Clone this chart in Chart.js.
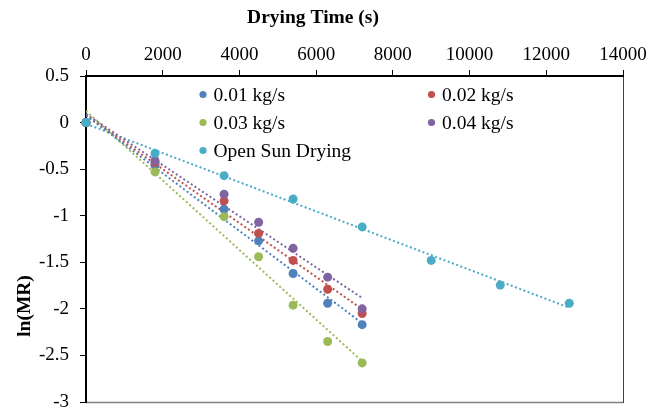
<!DOCTYPE html>
<html>
<head>
<meta charset="utf-8">
<script src="https://cdn.jsdelivr.net/npm/chart.js@4/dist/chart.umd.min.js"></script>
<style>
html,body{margin:0;padding:0;background:#fff;}
#wrap{width:661px;height:412px;position:relative;}
</style>
</head>
<body>
<div id="wrap"><canvas id="c" width="661" height="412"></canvas></div>
<script>
// ---- data ----
const xAir = [0, 1800, 3600, 4500, 5400, 6300, 7200];
const xSun = [0, 1800, 3600, 5400, 7200, 9000, 10800, 12600];
const flow001 = [0, -0.46, -0.93, -1.27, -1.62, -1.94, -2.17];
const flow002 = [0, -0.43, -0.84, -1.19, -1.48, -1.79, -2.05];
const flow003 = [0, -0.53, -1.01, -1.44, -1.96, -2.35, -2.58];
const flow004 = [0, -0.41, -0.77, -1.07, -1.35, -1.66, -2.00];
const openSun = [0, -0.33, -0.57, -0.82, -1.12, -1.48, -1.745, -1.94];
const seriesLabels = ['0.01 kg/s', '0.02 kg/s', '0.03 kg/s', '0.04 kg/s', 'Open Sun Drying'];
const colors = ['#4F81BD', '#C0504D', '#9BBB59', '#8064A2', '#4BACC6'];
const xTitle = 'Drying Time (s)';
const yTitle = 'ln(MR)';

const seriesX = [xAir, xAir, xAir, xAir, xSun];
const seriesY = [flow001, flow002, flow003, flow004, openSun];

function pts(xs, ys) { return xs.map((x, i) => ({x: x, y: ys[i]})); }
function trend(xs, ys) {
  const n = xs.length;
  let sx = 0, sy = 0, sxx = 0, sxy = 0;
  for (let i = 0; i < n; i++) { sx += xs[i]; sy += ys[i]; sxx += xs[i]*xs[i]; sxy += xs[i]*ys[i]; }
  const b = (n*sxy - sx*sy) / (n*sxx - sx*sx);
  const a = (sy - b*sx) / n;
  const x0 = xs[0], x1 = xs[n-1];
  return [{x: x0, y: a + b*x0}, {x: x1, y: a + b*x1}];
}

const FONT = "'Liberation Serif', 'Times New Roman', serif";
const datasets = [];
for (let i = 0; i < 5; i++) {
  datasets.push({
    label: seriesLabels[i],
    data: pts(seriesX[i], seriesY[i]),
    showLine: false,
    pointRadius: 4.5,
    pointHoverRadius: 4.5,
    pointBackgroundColor: colors[i],
    pointBorderColor: colors[i],
    pointBorderWidth: 0,
    clip: false,
    order: 5 - i,
    isPoints: true
  });
}
for (let i = 0; i < 5; i++) {
  datasets.push({
    label: seriesLabels[i] + ' trend',
    data: trend(seriesX[i], seriesY[i]),
    showLine: true,
    pointRadius: 0,
    borderColor: colors[i],
    borderWidth: 2,
    borderDash: [2, 2.5],
    fill: false,
    order: 20 + i
  });
}

const customDraw = {
  id: 'customDraw',
  beforeDraw(chart) {
    const ctx = chart.ctx;
    ctx.save();
    ctx.fillStyle = '#fff';
    ctx.fillRect(0, 0, chart.width, chart.height);
    const a = chart.chartArea;
    ctx.strokeStyle = '#808080';
    ctx.lineWidth = 1.5;
    ctx.beginPath();
    ctx.moveTo(a.left, a.bottom + 0.5);
    ctx.lineTo(a.right, a.bottom + 0.5);
    ctx.stroke();
    ctx.strokeStyle = '#404040';
    ctx.lineWidth = 1;
    ctx.beginPath();
    ctx.moveTo(a.right + 0.5, a.top);
    ctx.lineTo(a.right + 0.5, a.bottom + 1);
    ctx.stroke();
    ctx.restore();
  },
  afterDraw(chart) {
    const ctx = chart.ctx;
    ctx.save();
    ctx.fillStyle = '#000';
    ctx.font = 'bold 19.5px ' + FONT;
    ctx.textAlign = 'center';
    ctx.textBaseline = 'middle';
    ctx.fillText(xTitle, 313, 18);
    ctx.translate(25, 306);
    ctx.rotate(-Math.PI / 2);
    ctx.fillText(yTitle, 0, 0);
    ctx.restore();

    ctx.save();
    ctx.font = '19.5px ' + FONT;
    ctx.textAlign = 'left';
    ctx.textBaseline = 'middle';
    const pos = [[203, 94.5], [431.5, 94.5], [203, 122.5], [431.5, 122.5], [203, 150.5]];
    const pd = chart.data.datasets.filter(d => d.isPoints);
    pd.forEach((d, i) => {
      const [mx, my] = pos[i];
      ctx.fillStyle = d.pointBackgroundColor;
      ctx.beginPath();
      ctx.arc(mx, my, 3.6, 0, Math.PI * 2);
      ctx.fill();
      ctx.fillStyle = '#000';
      ctx.fillText(d.label, mx + 10.5, my + 1);
    });
    ctx.restore();
  }
};

new Chart(document.getElementById('c'), {
  type: 'scatter',
  data: { datasets: datasets },
  options: {
    responsive: false,
    animation: false,
    devicePixelRatio: 1,
    layout: { padding: { left: 0, right: 38, top: 0, bottom: 10 } },
    plugins: { legend: { display: false }, tooltip: { enabled: false } },
    scales: {
      x: {
        type: 'linear',
        position: 'top',
        min: 0, max: 14000,
        ticks: { stepSize: 2000, color: '#000', font: { family: FONT, size: 19 }, padding: 4, maxRotation: 0,
                 callback: (v) => String(v) },
        grid: { display: true, drawOnChartArea: false, drawTicks: true, tickLength: 6, color: '#000', lineWidth: 1 },
        border: { display: true, color: '#000', width: 2 },
        afterFit(scale) { scale.height = 76; scale.paddingLeft = 0; scale.paddingRight = 0; }
      },
      y: {
        type: 'linear',
        min: -3, max: 0.5,
        ticks: { stepSize: 0.5, color: '#000', font: { family: FONT, size: 19 }, padding: 11,
                 callback: (v) => String(Math.round(v * 10) / 10) },
        grid: { display: true, drawOnChartArea: false, drawTicks: true, tickLength: 6, color: '#000', lineWidth: 1 },
        border: { display: true, color: '#000', width: 2 },
        afterFit(scale) { scale.width = 86; scale.paddingTop = 0; scale.paddingBottom = 0; }
      }
    }
  },
  plugins: [customDraw]
});
</script>
</body>
</html>
